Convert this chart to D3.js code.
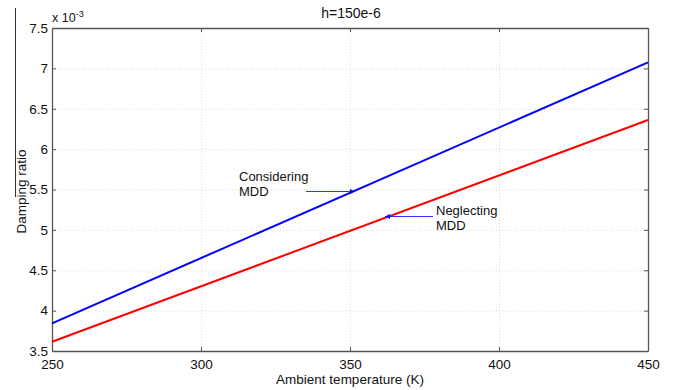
<!DOCTYPE html>
<html><head><meta charset="utf-8">
<script src="https://cdn.jsdelivr.net/npm/d3@7"></script>
<style>body{margin:0;background:#fff}svg{display:block}text{font-family:"Liberation Sans",Arial,sans-serif;fill:#111}</style>
</head><body>
<svg id="c" width="675" height="390"></svg>
<script>
const temps = [250, 450];
const considering = [3.843, 7.075];
const neglecting = [3.615, 6.361];
const xTicks = [250, 300, 350, 400, 450];
const yTicks = [3.5, 4, 4.5, 5, 5.5, 6, 6.5, 7, 7.5];
const title = "h=150e-6";
const xLabel = "Ambient temperature (K)";
const yLabel = "Damping ratio";

const svg = d3.select("#c");
const L = 52, R = 648, T = 28, B = 351;
const x = d3.scaleLinear().domain([250, 450]).range([L, R]);
const y = d3.scaleLinear().domain([3.5, 7.5]).range([B, T]);

// scan artifact line at left
svg.append("line").attr("x1",15.5).attr("x2",15.5).attr("y1",8).attr("y2",197).attr("stroke","#333").attr("stroke-width",1);

// grid
const g = svg.append("g");
g.selectAll(".gx").data(xTicks.slice(1,-1)).join("line")
  .attr("x1",d=>x(d)+0.5).attr("x2",d=>x(d)+0.5).attr("y1",T).attr("y2",B)
  .attr("stroke","#ccc").attr("stroke-width",0.7).attr("stroke-dasharray","1,2");
g.selectAll(".gy").data(yTicks.slice(1,-1)).join("line")
  .attr("y1",d=>y(d)+0.5).attr("y2",d=>y(d)+0.5).attr("x1",L).attr("x2",R)
  .attr("stroke","#ccc").attr("stroke-width",0.7).attr("stroke-dasharray","1,2");

// axes
const tk = 4;
const ax = svg.append("g").attr("transform",`translate(0,${B})`)
  .call(d3.axisBottom(x).tickValues(xTicks).tickSizeInner(-tk).tickSizeOuter(0).tickPadding(8));
const ay = svg.append("g").attr("transform",`translate(${L},0)`)
  .call(d3.axisLeft(y).tickValues(yTicks).tickFormat(d3.format("")).tickSizeInner(-tk).tickSizeOuter(0).tickPadding(4));
const axT = svg.append("g").attr("transform",`translate(0,${T})`)
  .call(d3.axisTop(x).tickValues(xTicks).tickSizeInner(-tk).tickSizeOuter(0).tickFormat(""));
const ayR = svg.append("g").attr("transform",`translate(${R},0)`)
  .call(d3.axisRight(y).tickValues(yTicks).tickSizeInner(-tk).tickSizeOuter(0).tickFormat(""));
[ax,ay,axT,ayR].forEach(a=>{
  a.select(".domain").attr("stroke","#555").attr("stroke-width",1.3);
  a.selectAll(".tick line").attr("stroke","#555");
  a.selectAll(".tick text").attr("font-size",13.5).attr("fill","#111").style("font-family","Liberation Sans, Arial, sans-serif");
});

// lines
const line = d3.line().x((d,i)=>x(temps[i])).y(d=>y(d));
svg.append("path").datum(considering).attr("d",line).attr("fill","none").attr("stroke","#0000ff").attr("stroke-width",2);
svg.append("path").datum(neglecting).attr("d",line).attr("fill","none").attr("stroke","#ff0000").attr("stroke-width",2);

// text
svg.append("text").attr("x",351).attr("y",18).attr("text-anchor","middle").attr("font-size",14).text(title);
svg.append("text").attr("x",350).attr("y",384).attr("text-anchor","middle").attr("font-size",13.5).text(xLabel);
svg.append("text").attr("transform",`translate(26,${(T+B)/2+2}) rotate(-90)`).attr("text-anchor","middle").attr("font-size",13.5).text(yLabel);
const ex = svg.append("text").attr("x",52).attr("y",22).attr("font-size",12.5);
ex.append("tspan").text("x 10");
ex.append("tspan").attr("dy",-5).attr("font-size",9).text("-3");

// annotations
const defs = svg.append("defs");
defs.append("marker").attr("id","ah").attr("viewBox","0 0 10 10").attr("refX",10).attr("refY",5)
  .attr("markerWidth",7).attr("markerHeight",5).attr("orient","auto").attr("markerUnits","userSpaceOnUse")
  .append("path").attr("d","M0,0L10,5L0,10z").attr("fill","#0000ff");
svg.append("line").attr("x1",306).attr("y1",191.5).attr("x2",355).attr("y2",191.5).attr("stroke","#0000ff").attr("stroke-width",0.8).attr("marker-end","url(#ah)");
svg.append("line").attr("x1",433).attr("y1",216.5).attr("x2",385).attr("y2",216.5).attr("stroke","#0000ff").attr("stroke-width",0.8).attr("marker-end","url(#ah)");
svg.append("text").attr("x",239).attr("y",181).attr("font-size",13).text("Considering");
svg.append("text").attr("x",239).attr("y",196).attr("font-size",13).text("MDD");
svg.append("text").attr("x",436).attr("y",215).attr("font-size",13).text("Neglecting");
svg.append("text").attr("x",436).attr("y",230).attr("font-size",13).text("MDD");
</script>
</body></html>
